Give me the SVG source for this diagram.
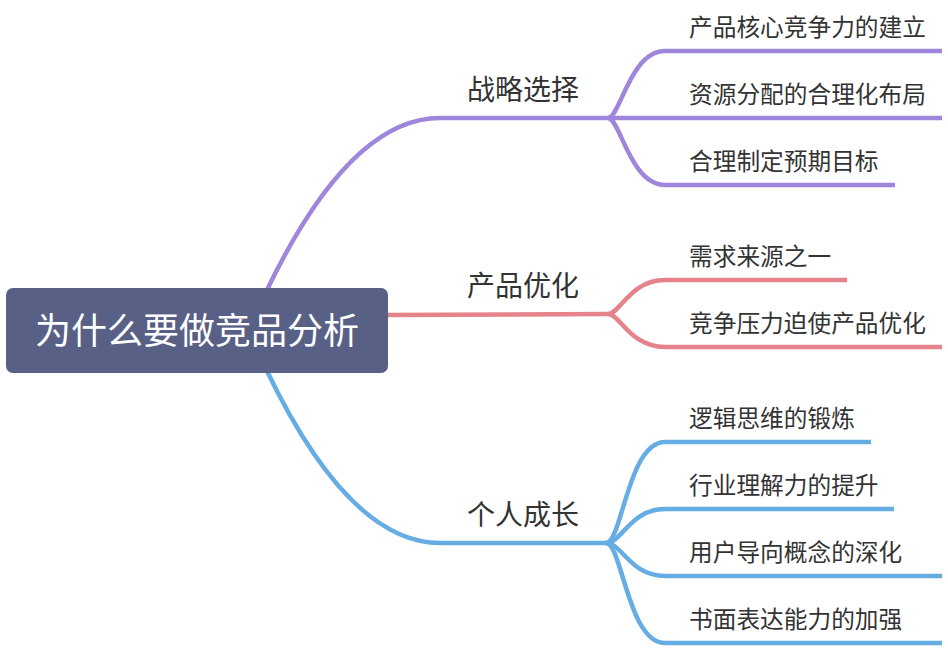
<svg xmlns="http://www.w3.org/2000/svg" width="948" height="648" viewBox="0 0 948 648">
<style>
.c{fill:none;stroke-width:4.5;stroke-linecap:butt}
.p{stroke:#9e86dc}
.r{stroke:#e4848a}
.b{stroke:#66ade3}
.t{font-family:"Noto Sans CJK SC","Noto Sans",sans-serif;fill:#333}
.br{font-size:28px}
.lf{font-size:23.7px}
.root{font-family:"Noto Sans CJK SC","Noto Sans",sans-serif;font-size:36px;fill:#fff}
</style>
<rect width="948" height="648" fill="#fff"/>
<g id="connectors">
<path class="c p" d="M266,292 C300,221 360,118 440,118 L610,118"/>
<path class="c p" d="M608,118 C620,118 630,51 665,51 L942,51"/>
<path class="c p" d="M608,118 L942,118"/>
<path class="c p" d="M608,118 C620,118 630,185 665,185 L895,185"/>
<path class="c r" d="M385,315 L610,314"/>
<path class="c r" d="M608,314 C620,314 630,280 665,280 L847,280"/>
<path class="c r" d="M608,314 C620,314 630,347 665,347 L942,347"/>
<path class="c b" d="M266,369 C300,440 360,543 440,543 L610,543"/>
<path class="c b" d="M606,543 C622,543 628,442 665,442 L871,442"/>
<path class="c b" d="M606,543 C622,543 630,509 665,509 L894,509"/>
<path class="c b" d="M606,543 C622,543 630,576 665,576 L942,576"/>
<path class="c b" d="M606,543 C622,543 628,643 665,643 L942,643"/>
</g>
<g id="root">
<rect x="6" y="288" width="382" height="85" rx="7" fill="#596086"/>
<text class="root" x="197" y="344" text-anchor="middle">为什么要做竞品分析</text>
</g>
<g id="b1"><text class="t br" x="467" y="100">战略选择</text></g>
<g id="b1l1"><text class="t lf" x="689" y="36">产品核心竞争力的建立</text></g>
<g id="b1l2"><text class="t lf" x="689" y="103">资源分配的合理化布局</text></g>
<g id="b1l3"><text class="t lf" x="689" y="170">合理制定预期目标</text></g>
<g id="b2"><text class="t br" x="467" y="296">产品优化</text></g>
<g id="b2l1"><text class="t lf" x="689" y="265">需求来源之一</text></g>
<g id="b2l2"><text class="t lf" x="689" y="332">竞争压力迫使产品优化</text></g>
<g id="b3"><text class="t br" x="467" y="525">个人成长</text></g>
<g id="b3l1"><text class="t lf" x="689" y="427">逻辑思维的锻炼</text></g>
<g id="b3l2"><text class="t lf" x="689" y="494">行业理解力的提升</text></g>
<g id="b3l3"><text class="t lf" x="689" y="561">用户导向概念的深化</text></g>
<g id="b3l4"><text class="t lf" x="689" y="628">书面表达能力的加强</text></g>
</svg>
